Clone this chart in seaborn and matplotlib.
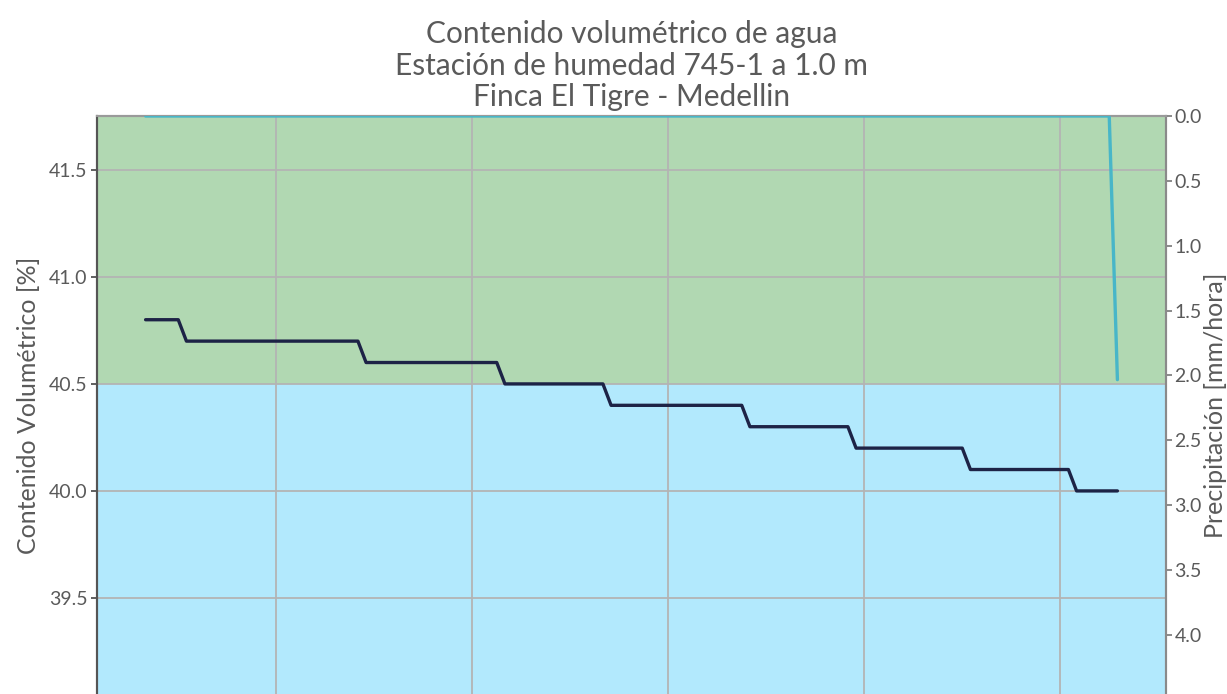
import matplotlib
matplotlib.use("Agg")
import matplotlib.pyplot as plt
import matplotlib.dates as mdates
import numpy as np
import pandas as pd
import seaborn as sns

# Soil moisture (volumetric water content, %) sampled every 15 minutes
contenido = [
    40.8, 40.8, 40.8, 40.8, 40.8, 40.7, 40.7, 40.7, 40.7, 40.7, 40.7, 40.7,
    40.7, 40.7, 40.7, 40.7, 40.7, 40.7, 40.7, 40.7, 40.7, 40.7, 40.7, 40.7,
    40.7, 40.7, 40.7, 40.6, 40.6, 40.6, 40.6, 40.6, 40.6, 40.6, 40.6, 40.6,
    40.6, 40.6, 40.6, 40.6, 40.6, 40.6, 40.6, 40.6, 40.5, 40.5, 40.5, 40.5,
    40.5, 40.5, 40.5, 40.5, 40.5, 40.5, 40.5, 40.5, 40.5, 40.4, 40.4, 40.4,
    40.4, 40.4, 40.4, 40.4, 40.4, 40.4, 40.4, 40.4, 40.4, 40.4, 40.4, 40.4,
    40.4, 40.4, 40.3, 40.3, 40.3, 40.3, 40.3, 40.3, 40.3, 40.3, 40.3, 40.3,
    40.3, 40.3, 40.3, 40.2, 40.2, 40.2, 40.2, 40.2, 40.2, 40.2, 40.2, 40.2,
    40.2, 40.2, 40.2, 40.2, 40.2, 40.1, 40.1, 40.1, 40.1, 40.1, 40.1, 40.1,
    40.1, 40.1, 40.1, 40.1, 40.1, 40.1, 40.0, 40.0, 40.0, 40.0, 40.0, 40.0,
]

# Rainfall intensity (mm/hora) on the same timestamps
precipitacion = [
    0.0, 0.0, 0.0, 0.0, 0.0, 0.0, 0.0, 0.0, 0.0, 0.0, 0.0, 0.0,
    0.0, 0.0, 0.0, 0.0, 0.0, 0.0, 0.0, 0.0, 0.0, 0.0, 0.0, 0.0,
    0.0, 0.0, 0.0, 0.0, 0.0, 0.0, 0.0, 0.0, 0.0, 0.0, 0.0, 0.0,
    0.0, 0.0, 0.0, 0.0, 0.0, 0.0, 0.0, 0.0, 0.0, 0.0, 0.0, 0.0,
    0.0, 0.0, 0.0, 0.0, 0.0, 0.0, 0.0, 0.0, 0.0, 0.0, 0.0, 0.0,
    0.0, 0.0, 0.0, 0.0, 0.0, 0.0, 0.0, 0.0, 0.0, 0.0, 0.0, 0.0,
    0.0, 0.0, 0.0, 0.0, 0.0, 0.0, 0.0, 0.0, 0.0, 0.0, 0.0, 0.0,
    0.0, 0.0, 0.0, 0.0, 0.0, 0.0, 0.0, 0.0, 0.0, 0.0, 0.0, 0.0,
    0.0, 0.0, 0.0, 0.0, 0.0, 0.0, 0.0, 0.0, 0.0, 0.0, 0.0, 0.0,
    0.0, 0.0, 0.0, 0.0, 0.0, 0.0, 0.0, 0.0, 0.0, 0.0, 0.0, 2.032,
]

fechas = pd.date_range("2021-10-14 02:00", periods=len(contenido), freq="15min")
df = pd.DataFrame({"fecha": fechas, "contenido": contenido, "precipitacion": precipitacion})

umbral = 40.5  # boundary between the two moisture zones

titulo = "Contenido volumétrico de agua\nEstación de humedad 745-1 a 1.0 m\nFinca El Tigre - Medellin"
etiqueta_izq = "Contenido Volumétrico [%]"
etiqueta_der = "Precipitación [mm/hora]"

sns.set_theme(style="white")
plt.rcParams["font.family"] = ["Lato", "DejaVu Sans"]
texto = "#5a5a5a"

W, H = 1227, 694
fig = plt.figure(figsize=(W / 100, H / 100), dpi=100)
ax = fig.add_axes([97 / W, 0.0, (1166 - 97) / W, (H - 116) / H])

ax.axhspan(umbral, 50, color="#b1d8b2", zorder=0, lw=0)
ax.axhspan(30, umbral, color="#b2e9fd", zorder=0, lw=0)

sns.lineplot(data=df, x="fecha", y="contenido", ax=ax, color="#1d2346",
             lw=2.4, zorder=3)
ax.set_ylim(39.051, 41.752)
ax.set_yticks([39.5, 40.0, 40.5, 41.0, 41.5])
ax.yaxis.set_major_formatter(matplotlib.ticker.FormatStrFormatter("%.1f"))
ax.xaxis.set_major_locator(mdates.HourLocator(byhour=[0, 6, 12, 18]))
ax.set_axisbelow(True)
ax.grid(True, color="#b4b4b4", lw=1.3)
ax.set_xlabel("")
ax.set_ylabel(etiqueta_izq, color=texto, fontsize=18, labelpad=6)
ax.tick_params(axis="y", colors=texto, labelsize=14, length=4, width=1.2,
               direction="out", left=True, color="#444444", pad=3)
ax.tick_params(axis="x", labelbottom=False, bottom=False)
ax.set_title(titulo, color=texto, fontsize=21.5, pad=7, linespacing=1.16)

ax2 = ax.twinx()
sns.lineplot(data=df, x="fecha", y="precipitacion", ax=ax2, color="#48b6c8",
             lw=2.4, zorder=3)
ax2.set_ylim(4.455, 0.0)
ax2.set_yticks([0.0, 0.5, 1.0, 1.5, 2.0, 2.5, 3.0, 3.5, 4.0])
ax2.yaxis.set_major_formatter(matplotlib.ticker.FormatStrFormatter("%.1f"))
ax2.grid(False)
ax2.set_ylabel(etiqueta_der, color=texto, fontsize=18, labelpad=2)
ax2.tick_params(axis="y", colors=texto, labelsize=14, length=4, width=1.2,
                direction="out", right=True, color="#777777", pad=2)
ax2.set_xlabel("")

for a in (ax, ax2):
    a.spines["top"].set_color("#9a9a9a")
    a.spines["top"].set_linewidth(1.5)
    a.spines["bottom"].set_visible(False)
    a.spines["left"].set_color("#555555")
    a.spines["left"].set_linewidth(1.5)
    a.spines["right"].set_color("#8a8a8a")
    a.spines["right"].set_linewidth(1.5)

fig.savefig("out.png", dpi=100)
